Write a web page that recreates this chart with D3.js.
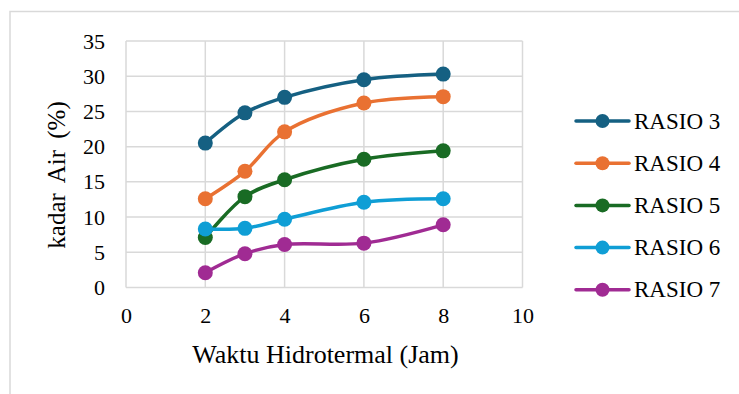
<!DOCTYPE html>
<html>
<head>
<meta charset="utf-8">
<script src="https://cdn.jsdelivr.net/npm/d3@7"></script>
<style>
  html, body { margin: 0; padding: 0; background: #fff; }
</style>
</head>
<body>
<svg id="chart" width="739" height="394"></svg>
<script>
const hours = [2, 3, 4, 6, 8];
const seriesNames = ["RASIO 3", "RASIO 4", "RASIO 5", "RASIO 6", "RASIO 7"];
const rasio3 = [20.5, 24.8, 27.0, 29.5, 30.3];
const rasio4 = [12.6, 16.5, 22.1, 26.2, 27.1];
const rasio5 = [7.1, 12.9, 15.3, 18.2, 19.4];
const rasio6 = [8.3, 8.4, 9.7, 12.1, 12.6];
const rasio7 = [2.1, 4.8, 6.1, 6.3, 8.9];
const seriesColors = ["#156082", "#E97132", "#196B24", "#0F9ED5", "#A02B93"];
const xTicks = [0, 2, 4, 6, 8, 10];
const yTicks = [0, 5, 10, 15, 20, 25, 30, 35];
const xTitle = "Waktu Hidrotermal (Jam)";
const yTitle = "kadar Air (%)";

const allSeries = [rasio3, rasio4, rasio5, rasio6, rasio7].map((vals, i) => ({
  name: seriesNames[i], color: seriesColors[i],
  points: hours.map((h, j) => ({ x: h, y: vals[j] }))
}));

const FONT = "Liberation Serif";
const svg = d3.select("#chart");
const grid = "#d9d9d9";

svg.append("rect").attr("x", 10).attr("y", 11.5).attr("width", 760).attr("height", 420)
  .attr("fill", "none").attr("stroke", grid).attr("stroke-width", 1.5);

const x = d3.scaleLinear().domain([0, 10]).range([126, 522.5]);
const y = d3.scaleLinear().domain([0, 35]).range([287.5, 41]);

const g = svg.append("g");
g.selectAll(".hg").data(yTicks).join("line")
  .attr("x1", x(0)).attr("x2", x(10)).attr("y1", d => y(d)).attr("y2", d => y(d))
  .attr("stroke", grid).attr("stroke-width", 1.5);
g.selectAll(".vg").data(xTicks).join("line")
  .attr("y1", y(0)).attr("y2", y(35)).attr("x1", d => x(d)).attr("x2", d => x(d))
  .attr("stroke", grid).attr("stroke-width", 1.5);

const xAxis = svg.append("g").attr("transform", `translate(0,${y(0)})`)
  .call(d3.axisBottom(x).tickValues(xTicks).tickSize(0).tickPadding(20).tickFormat(d3.format("d")));
xAxis.select(".domain").remove();
xAxis.selectAll("text").style("font-family", FONT).style("font-size", "22px").attr("fill", "#000");

const yAxis = svg.append("g").attr("transform", `translate(105,0)`)
  .call(d3.axisLeft(y).tickValues(yTicks).tickSize(0).tickPadding(0).tickFormat(d3.format("d")));
yAxis.select(".domain").remove();
yAxis.selectAll("text").style("font-family", FONT).style("font-size", "22px").attr("fill", "#000");

svg.append("text").attr("x", 325.5).attr("y", 363).attr("text-anchor", "middle")
  .style("font-family", FONT).style("font-size", "26px").text(xTitle);
svg.append("text").attr("transform", "translate(65,175) rotate(-90)")
  .attr("text-anchor", "middle").style("font-family", FONT).style("font-size", "25px")
  .style("word-spacing", "5px").text(yTitle);

const line = d3.line().x(d => x(d.x)).y(d => y(d.y)).curve(d3.curveCatmullRom.alpha(0.5));
allSeries.forEach(s => {
  const sg = svg.append("g");
  sg.append("path").attr("d", line(s.points)).attr("fill", "none")
    .attr("stroke", s.color).attr("stroke-width", 3.5).attr("stroke-linecap", "round");
  sg.selectAll("circle").data(s.points).join("circle")
    .attr("cx", d => x(d.x)).attr("cy", d => y(d.y)).attr("r", 7.5).attr("fill", s.color);
});

const leg = svg.append("g");
allSeries.forEach((s, i) => {
  const cy = 121 + i * 42.2;
  leg.append("line").attr("x1", 576).attr("x2", 629).attr("y1", cy).attr("y2", cy)
    .attr("stroke", s.color).attr("stroke-width", 3.5).attr("stroke-linecap", "round");
  leg.append("circle").attr("cx", 602.5).attr("cy", cy).attr("r", 7).attr("fill", s.color);
  leg.append("text").attr("x", 634).attr("y", cy + 7.5).style("font-family", FONT)
    .style("font-size", "23px").text(s.name);
});
</script>
</body>
</html>
